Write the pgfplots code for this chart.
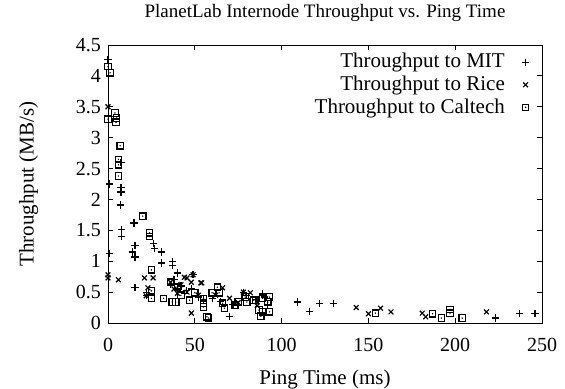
\documentclass[border=0pt]{standalone}
\usepackage{fontspec}
\setmainfont{Liberation Serif}
\usepackage{pgfplots}
\pgfplotsset{compat=1.18}
\pgfdeclareplotmark{sqdot}{%
  \pgfpathrectangle{\pgfqpoint{-\pgfplotmarksize}{-\pgfplotmarksize}}{\pgfqpoint{2\pgfplotmarksize}{2\pgfplotmarksize}}%
  \pgfusepathqstroke
  \pgfpathcircle{\pgfpointorigin}{0.4pt}\pgfusepathqfill}
\begin{document}
\begin{tikzpicture}
\useasboundingbox (-54pt,-32.5pt) rectangle (228.5pt,161.5pt);
\begin{axis}[
  at={(0,0)}, anchor=south west,
  scale only axis, width=217pt, height=139pt,
  xmin=0, xmax=250, ymin=0, ymax=4.5,
  xtick={0,50,...,250}, ytick={0,0.5,...,4.5},
  tick align=inside, major tick length=2.7pt,
  axis line style={line width=0.5pt},
  every tick/.style={black, line width=0.5pt},
  /pgf/number format/assume math mode=true,
  yticklabel style={/pgf/number format/fixed},
  xticklabel style={yshift=-4.2pt},
  title={PlanetLab Internode Throughput vs. Ping Time},
  title style={yshift=2pt, font=\fontsize{9.5}{11}\selectfont},
  xlabel={Ping Time (ms)}, ylabel={Throughput (MB/s)},
  xlabel style={yshift=-2.3pt, font=\fontsize{10.5}{12}\selectfont},
  ylabel style={yshift=12pt, font=\fontsize{10.5}{12}\selectfont},
  legend style={draw=none, fill=none, at={(rel axis cs:1,1)}, anchor=north east, xshift=-3.2pt, yshift=0pt, row sep=-1.5pt, column sep=6.6pt, font=\fontsize{10.5}{12}\selectfont},
  legend cell align=right, legend plot pos=right,
]
\addplot[only marks, mark=+, mark size=1.8pt, line width=0.6pt] coordinates {
(0,4.27) (1,2.25) (1,1.12) (7.5,2.60) (7.5,2.19) (7.5,2.12) (7,1.91) (8,1.51) (8,1.40)
(15,1.62) (15.5,1.26) (14,1.15) (15.5,1.07) (15.5,0.58) (22,0.45) (22,0.50)
(26,1.29) (27,1.20) (31,1.15) (31,0.97) (37,0.99) (37,0.93) (40,0.81) (38,0.70)
(36,0.62) (40,0.55) (42,0.60) (44,0.48) (45,0.52) (49,0.78) (48,0.55) (52,0.42)
(55,0.38) (60,0.40) (65,0.35) (70,0.11) (72,0.30) (78,0.50) (80,0.45) (85,0.38)
(89,0.47) (90,0.42) (92,0.30) (109,0.34) (116,0.19) (122,0.32) (130,0.31)
(223,0.08) (237,0.16) (246,0.16)
};
\addlegendentry{Throughput to MIT}
\addplot[only marks, mark=x, mark size=1.7pt, line width=0.6pt] coordinates {
(0,3.50) (0,0.78) (0,0.73) (6,0.70) (21,0.73) (26,0.73) (23,0.57) (22,0.44)
(36,0.66) (38,0.55) (40,0.48) (42,0.62) (44,0.74) (45.5,0.73) (49,0.78) (48,0.66)
(45.5,0.50) (52,0.45) (53.5,0.65) (48,0.16) (54,0.65) (66,0.57) (62,0.45) (70,0.40)
(75,0.33) (78,0.50) (82,0.49) (86,0.28) (143,0.25) (150,0.15) (157,0.24) (163,0.18)
(181,0.16) (183,0.10) (218,0.18)
};
\addlegendentry{Throughput to Rice}
\addplot[only marks, mark=sqdot, mark size=1.6pt, line width=0.6pt] coordinates {
(0,4.15) (1.2,4.05) (0,3.30) (4,3.40) (5,3.32) (4.6,3.25) (7,2.87) (6,2.65) (6,2.56)
(6,2.38) (20,1.73) (24,1.46) (24,1.40) (25,0.86) (25,0.52) (25,0.40) (32,0.40)
(37,0.34) (40,0.58) (36,0.66) (39,0.34) (42,0.45) (47,0.37) (50,0.49) (55,0.40)
(55,0.32) (55,0.26) (57,0.10) (58,0.08) (60,0.49) (63,0.58) (64,0.49) (66,0.32)
(67,0.24) (73,0.29) (75,0.34) (79,0.42) (80,0.34) (84,0.37) (85,0.37) (88,0.11)
(89,0.40) (89,0.18) (92,0.34) (93,0.42) (93,0.18) (87,0.21) (154,0.16) (187,0.15)
(192,0.08) (197,0.16) (197,0.22) (204,0.08)
};
\addlegendentry{Throughput to Caltech}
\end{axis}
\end{tikzpicture}
\end{document}
